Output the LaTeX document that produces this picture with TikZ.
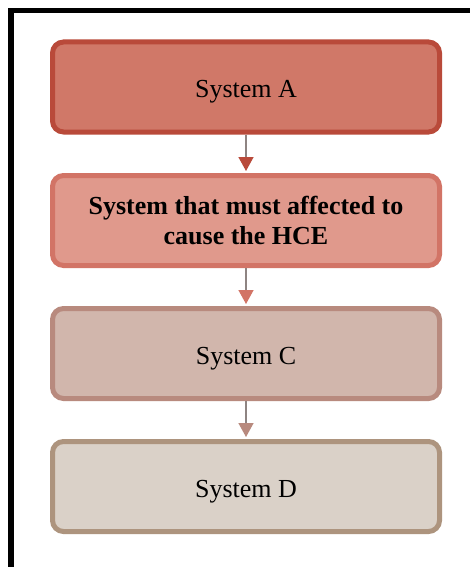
\documentclass[tikz,border=0pt]{standalone}
\usepackage{fontspec}
\setmainfont{Liberation Serif}
\usetikzlibrary{arrows.meta}

\definecolor{fillA}{HTML}{D07868}
\definecolor{lineA}{HTML}{B94A3A}
\definecolor{fillB}{HTML}{E0998C}
\definecolor{lineB}{HTML}{D27466}
\definecolor{fillC}{HTML}{D1B6AC}
\definecolor{lineC}{HTML}{B88A7E}
\definecolor{fillD}{HTML}{DAD1C8}
\definecolor{lineD}{HTML}{AD947E}
\definecolor{stem}{HTML}{8E8482}

\tikzset{
  sysbox/.style={draw, line width=5pt, rounded corners=11pt,
    minimum width=387pt, minimum height=90pt, inner sep=0pt,
    align=center, font=\fontsize{26}{30}\selectfont, text=black},
  oneline/.style={text height=22pt, text depth=0pt},
  flow/.style={draw=stem, line width=1.5pt, shorten >=2pt}
}

\begin{document}
\begin{tikzpicture}[x=1pt,y=-1pt]
  \useasboundingbox (0,0) rectangle (470,567);
  \fill[white] (0,0) rectangle (470,567);

  % page frame along the left and top
  \draw[line width=5.5pt, line join=miter] (11,567) -- (11,10.5) -- (470,10.5);

  % the chain of systems
  \node[sysbox, oneline, fill=fillA, draw=lineA] (sa) at (246,87) {System A};
  \node[sysbox, fill=fillB, draw=lineB] (sb) at (246,220.5)
    {\bfseries System that must affected to\\\bfseries cause the HCE};
  \node[sysbox, oneline, fill=fillC, draw=lineC] (sc) at (246,353.5) {System C};
  \node[sysbox, oneline, fill=fillD, draw=lineD] (sd) at (246,486.5) {System D};

  % connectors
  \draw[flow, -{Triangle[width=15pt,length=14pt,color=lineA]}] (sa.south) -- (sb.north);
  \draw[flow, -{Triangle[width=15pt,length=14pt,color=lineB]}] (sb.south) -- (sc.north);
  \draw[flow, -{Triangle[width=15pt,length=14pt,color=lineC]}] (sc.south) -- (sd.north);
\end{tikzpicture}
\end{document}
